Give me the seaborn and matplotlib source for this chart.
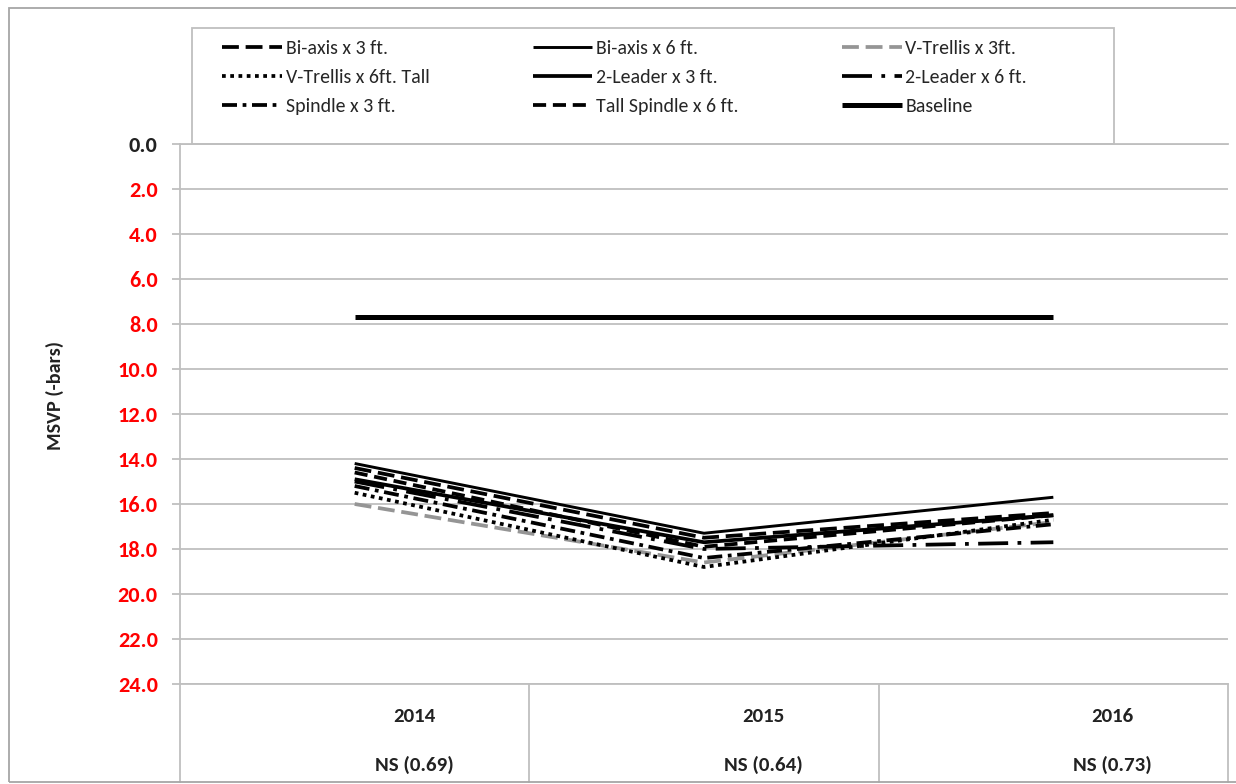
import numpy as np
import seaborn as sns
import matplotlib
matplotlib.use("Agg")
import matplotlib.pyplot as plt
from matplotlib import font_manager
from matplotlib.lines import Line2D
from matplotlib.patches import Rectangle

# Category axis and its significance row
years = ["2014", "2015", "2016"]
significance = ["NS (0.69)", "NS (0.64)", "NS (0.73)"]

# Mean seasonal MSVP per training system (-bars)
bi_axis_3 = [14.4, 17.5, 16.4]
bi_axis_6 = [14.2, 17.3, 15.7]
v_trellis_3 = [16.0, 18.6, 16.8]
v_trellis_6_tall = [15.5, 18.8, 16.7]
leader2_3 = [14.9, 17.7, 16.5]
leader2_6 = [15.0, 18.0, 17.7]
spindle_3 = [15.2, 18.4, 16.9]
tall_spindle_6 = [14.6, 17.9, 16.5]
baseline = [7.7, 7.7, 7.7]

y_ticks = np.arange(0, 25, 2)

sns.set_theme(style="white")

installed = {f.name for f in font_manager.fontManager.ttflist}


def pick(*names):
    for n in names:
        if n in installed:
            return n
    return "DejaVu Sans"


label_font = pick("Carlito", "Open Sans", "Noto Sans")
legend_font = pick("Carlito", "Liberation Sans Narrow", "Open Sans")
plt.rcParams["font.family"] = [label_font, "DejaVu Sans"]

W, H = 1236, 784
fig = plt.figure(figsize=(W / 100, H / 100), dpi=100)
ax = fig.add_axes([180 / W, 100 / H, 1048 / W, 540 / H])

x = np.arange(len(years))

# name, values, colour, width, dash pattern
series = [
    ("Bi-axis x 3 ft.", bi_axis_3, "black", 2.7, (0, (4.5, 1.8))),
    ("Bi-axis x 6 ft.", bi_axis_6, "black", 2.1, "-"),
    ("V-Trellis x 3ft.", v_trellis_3, "#959595", 2.7, (0, (4.5, 1.8))),
    ("V-Trellis x 6ft. Tall", v_trellis_6_tall, "black", 2.7, (0, (1, 1.2))),
    ("2-Leader x 3 ft.", leader2_3, "black", 2.7, "-"),
    ("2-Leader x 6 ft.", leader2_6, "black", 2.7, (0, (8, 2.5, 1, 2.5))),
    ("Spindle x 3 ft.", spindle_3, "black", 2.7, (0, (4, 1.5, 1, 1.5))),
    ("Tall Spindle x 6 ft.", tall_spindle_6, "black", 2.7, (0, (3.5, 1.8))),
    ("Baseline", baseline, "black", 3.6, "-"),
]

draw_order = [2, 3, 6, 5, 7, 4, 0, 1, 8]
for i in draw_order:
    name, vals, color, lw, ls = series[i]
    sns.lineplot(x=x, y=vals, ax=ax, color=color, lw=lw, linestyle=ls,
                 legend=False, solid_capstyle="butt")

grid_c = "#BFBFBF"
ax.set_xlim(-0.5, 2.5)
ax.set_ylim(24, 0)
ax.set_xticks([])
ax.set_yticks(y_ticks)
ax.set_yticklabels([f"{v:.1f}" for v in y_ticks])
ax.yaxis.grid(True, color=grid_c, lw=1.3)
ax.set_axisbelow(True)
for side in ["left", "bottom", "top"]:
    ax.spines[side].set_color(grid_c)
    ax.spines[side].set_linewidth(1.3)
ax.spines["right"].set_visible(False)
ax.tick_params(axis="y", direction="out", length=6, width=1.3, color=grid_c,
               pad=10, labelsize=16, labelcolor="#FF0000", left=True)
for lbl in ax.get_yticklabels():
    lbl.set_fontweight("bold")
ax.get_yticklabels()[0].set_color("#222222")

# category cells under the plot
xt = ax.get_xaxis_transform()
cell_h = 98 / 540
for b in np.arange(len(years) + 1) - 0.5:
    ax.plot([b, b], [0, -cell_h], transform=xt, color=grid_c, lw=1.3,
            clip_on=False)
for i, (yr, sg) in enumerate(zip(years, significance)):
    ax.text(i + 0.17, -33 / 540, yr, transform=xt, ha="center", va="center",
            fontsize=15, fontweight="bold", color="#222222")
    ax.text(i + 0.17, -81 / 540, sg, transform=xt, ha="center", va="center",
            fontsize=15, fontweight="bold", color="#222222")

fig.text(55 / W, 1 - 395 / H, "MSVP (-bars)", rotation=90, ha="center",
         va="center", fontsize=14.5, fontweight="bold", color="#222222")

# outer chart border and legend frame
fig.add_artist(Rectangle((9 / W, 2 / H), 1.0, 774 / H, fill=False,
                         edgecolor="#A6A6A6", lw=1.3,
                         transform=fig.transFigure))
fig.add_artist(Rectangle((192 / W, (H - 144) / H), (1114 - 192) / W, 116 / H,
                         fill=False, edgecolor=grid_c, lw=1.3,
                         transform=fig.transFigure))

handles = [Line2D([], [], color=c, lw=lw, linestyle=ls, solid_capstyle="butt")
           for _, _, c, lw, ls in series]
labels = [s[0] for s in series]
order = [0, 3, 6, 1, 4, 7, 2, 5, 8]
fig.legend([handles[i] for i in order], [labels[i] for i in order], ncol=3,
           loc="upper left", bbox_to_anchor=(222 / W, 1 - 40 / H),
           frameon=False, borderaxespad=0, borderpad=0,
           handlelength=3.0, handletextpad=0.2, labelspacing=0.6,
           columnspacing=5.2,
           prop={"family": [legend_font, "DejaVu Sans"], "size": 14.3})

fig.savefig("out.png", dpi=100)
